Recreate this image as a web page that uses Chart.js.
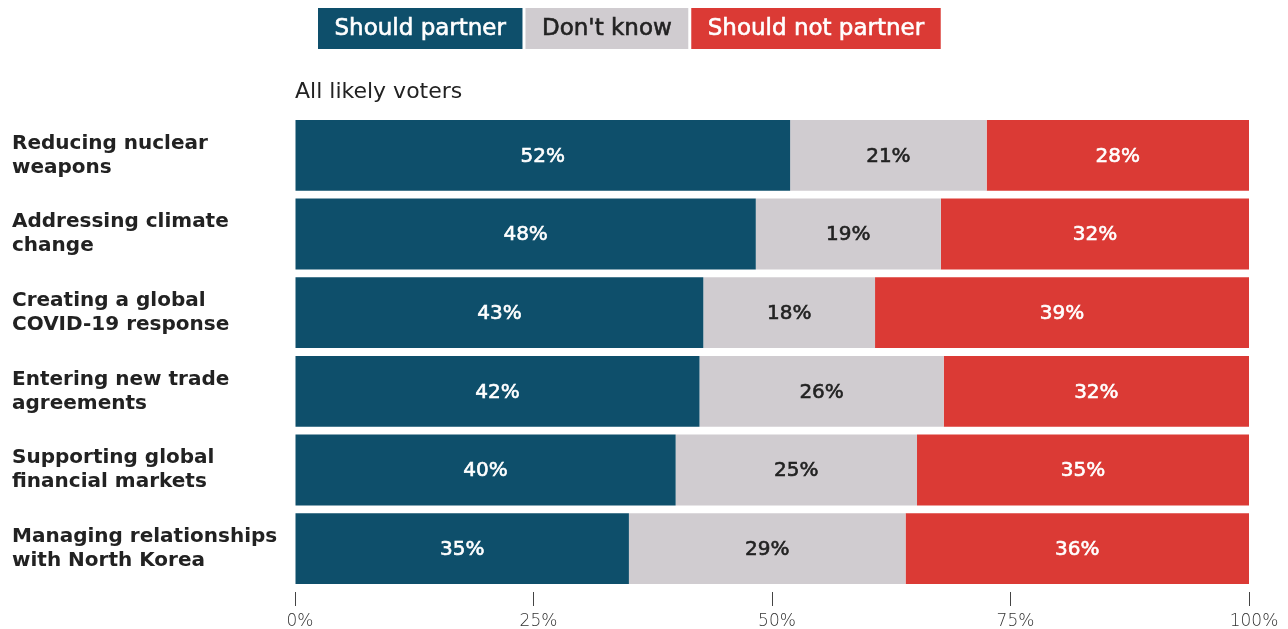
<!DOCTYPE html>
<html>
<head>
<meta charset="utf-8">
<script src="https://cdn.jsdelivr.net/npm/chart.js@4.4.1/dist/chart.umd.min.js"></script>
<style>
  html, body { margin: 0; padding: 0; background: #fff; }
  #wrap { width: 1288px; height: 629px; }
</style>
</head>
<body>
<div id="wrap"><canvas id="chart"></canvas></div>
<script>
// data
var categories = [
  ["Reducing nuclear", "weapons"],
  ["Addressing climate", "change"],
  ["Creating a global", "COVID-19 response"],
  ["Entering new trade", "agreements"],
  ["Supporting global", "financial markets"],
  ["Managing relationships", "with North Korea"]
];
var shouldPartner = [51.9, 48.3, 42.8, 42.4, 39.9, 35.0];
var dontKnow      = [20.6, 19.4, 18.0, 25.6, 25.3, 29.0];
var shouldNot     = [27.5, 32.3, 39.2, 32.0, 34.8, 36.0];
var seriesNames = ["Should partner", "Don't know", "Should not partner"];
var xTicks = [0, 25, 50, 75, 100];
var subtitle = "All likely voters";

var seriesColors = ["#0e4f6b", "#d0ccd0", "#db3a35"];
var textColors = ["#ffffff", "#222222", "#ffffff"];
var FONT = "'DejaVu Sans', sans-serif";

Chart.defaults.font.family = FONT;

// text with a hairline stroke so it reads a bit heavier (medium weight)
function medText(ctx, s, x, y, col) {
  ctx.fillStyle = col;
  ctx.strokeStyle = col;
  ctx.lineWidth = 0.6;
  ctx.fillText(s, x, y);
  ctx.strokeText(s, x, y);
}

var extras = {
  id: 'extras',
  afterDatasetsDraw: function(chart) {
    var ctx = chart.ctx;
    ctx.save();
    ctx.textBaseline = 'middle';
    ctx.textAlign = 'center';
    ctx.font = '400 20px ' + FONT;
    chart.data.datasets.forEach(function(ds, i) {
      var meta = chart.getDatasetMeta(i);
      meta.data.forEach(function(bar, j) {
        medText(ctx, Math.round(ds.data[j]) + '%', (bar.x + bar.base) / 2, bar.y + 1, textColors[i]);
      });
    });

    // legend boxes across the top
    var x = 318;
    ctx.font = '400 23px ' + FONT;
    seriesNames.forEach(function(name, i) {
      var w = ctx.measureText(name).width + 33;
      ctx.fillStyle = seriesColors[i];
      ctx.fillRect(x, 8, w, 41);
      medText(ctx, name, x + w / 2, 29, textColors[i]);
      x += w + 3;
    });

    ctx.textAlign = 'left';
    ctx.font = '400 22px ' + FONT;
    ctx.fillStyle = '#222';
    ctx.fillText(subtitle, chart.chartArea.left, 92);
    ctx.restore();
  }
};

var data = [shouldPartner, dontKnow, shouldNot];

new Chart(document.getElementById('chart'), {
  type: 'bar',
  data: {
    labels: categories,
    datasets: seriesNames.map(function(name, i) {
      return {
        label: name,
        data: data[i],
        backgroundColor: seriesColors[i],
        borderWidth: 0,
        categoryPercentage: 1,
        barPercentage: 0.9
      };
    })
  },
  options: {
    indexAxis: 'y',
    responsive: true,
    maintainAspectRatio: false,
    animation: false,
    layout: { padding: { left: 12, top: 116, right: 39, bottom: 0 } },
    plugins: {
      legend: { display: false },
      tooltip: { enabled: false }
    },
    scales: {
      x: {
        stacked: true,
        min: 0,
        max: 100,
        afterBuildTicks: function(scale) {
          scale.ticks = xTicks.map(function(v) { return { value: v }; });
        },
        afterFit: function(scale) { scale.height = 41; },
        grid: {
          drawOnChartArea: false,
          tickLength: 18,
          tickBorderDash: [0, 4, 14, 100],
          tickColor: '#444',
          tickWidth: 1
        },
        border: { display: false },
        ticks: {
          padding: 5,
          labelOffset: 5,
          color: '#333',
          font: { size: 17, weight: 200 },
          callback: function(v) { return v + '%'; }
        }
      },
      y: {
        stacked: true,
        grid: { display: false },
        border: { display: false },
        afterFit: function(scale) { scale.width = 283; },
        ticks: {
          crossAlign: 'far',
          padding: 0,
          color: '#222',
          font: { size: 20, weight: 'bold', lineHeight: 1.2 }
        }
      }
    }
  },
  plugins: [extras]
});
</script>
</body>
</html>
